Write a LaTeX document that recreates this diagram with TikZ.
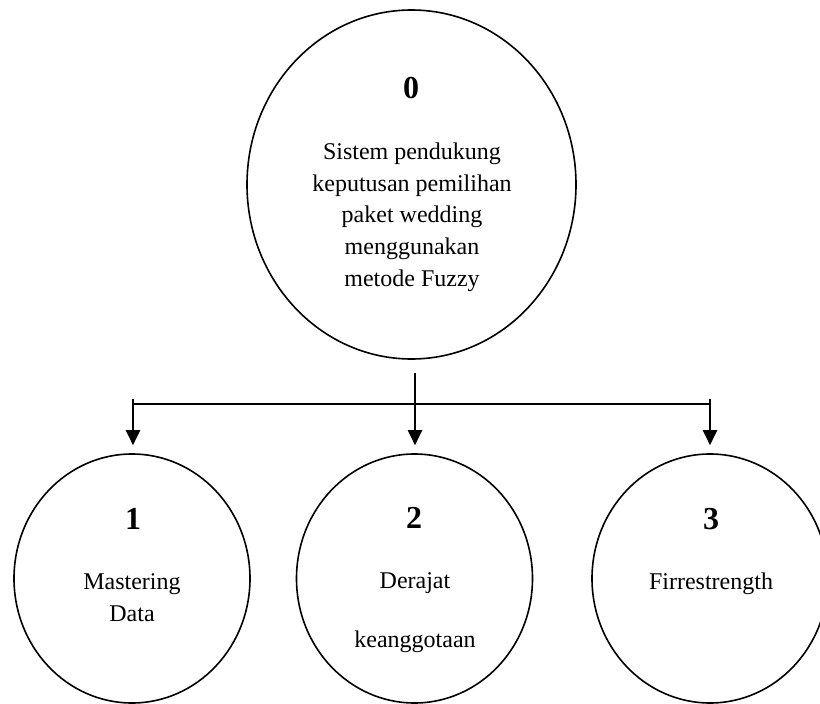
\documentclass[tikz,border=0pt]{standalone}
\usepackage{fontspec}
\setmainfont{Liberation Serif}
\usetikzlibrary{shapes, arrows.meta, positioning, calc}

\begin{document}
\begin{tikzpicture}[
    x=1pt, y=-1pt,
    >={Triangle[length=15pt, width=14pt]},
    proc/.style={draw, ellipse, line width=1.6pt, inner sep=0pt, minimum width=236pt, minimum height=249pt},
    num/.style={font=\fontsize{32}{38}\selectfont\bfseries},
    desc/.style={align=center, font=\fontsize{24}{31.7}\selectfont},
    link/.style={line width=2pt}
]
\useasboundingbox (0,0) rectangle (820,704);

% Main process (level 0)
\node (P0) [proc, minimum width=329pt, minimum height=349pt] at (411.5, 184.5) {};
\node (N0) [num] at (411, 88) {0};
\node (T0) [desc] at (412, 217) {Sistem pendukung\\keputusan pemilihan\\paket wedding\\menggunakan\\metode Fuzzy};

% Sub processes
\node (P1) [proc] at (132, 578.5) {};
\node (P2) [proc] at (414.5, 578.5) {};
\node (P3) [proc] at (710, 578.5) {};

\node (N1) [num] at (133, 519) {1};
\node (N2) [num] at (414, 518) {2};
\node (N3) [num] at (711, 519) {3};

\node (T1) [desc] at (132, 597.5) {Mastering\\Data};
\node (T2) [desc] at (415, 613) {Derajat\\[27.3pt]keanggotaan};
\node (T3) [desc] at (711, 583.4) {Firrestrength};

% Connectors
\coordinate (S) at (415, 373);
\coordinate (J) at (415, 404);
\coordinate (L) at (133, 399);
\coordinate (R) at (710, 399);

\draw[link, ->, shorten >=8pt] (S) -- (S |- P2.north);
\draw[link] (L |- J) -- (R |- J);
\draw[link, ->, shorten >=8pt] (L) -- (L |- P1.north);
\draw[link, ->, shorten >=8pt] (R) -- (R |- P3.north);

\end{tikzpicture}
\end{document}
